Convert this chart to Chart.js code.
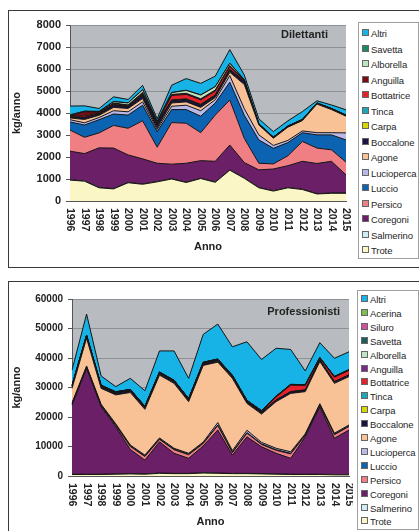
<!DOCTYPE html>
<html>
<head>
<meta charset="utf-8">
<script src="https://cdn.jsdelivr.net/npm/chart.js@4.4.0/dist/chart.umd.min.js"></script>
<style>
  body { margin: 0; background: #fff; width: 419px; height: 531px; overflow: hidden; position: relative;
         font-family: "Liberation Sans", Arial, sans-serif; }
  .frame { position: absolute; border: 1px solid #3a3a3a; }
  canvas { position: absolute; }
  .legend { position: absolute; border: 1px solid #a0a0a0; background: #fff; box-sizing: border-box; }
  .legend div { position: absolute; left: 3px; font-size: 9.5px; line-height: 10px; color: #262626; white-space: nowrap; letter-spacing: -0.1px; }
  .legend span { display: inline-block; width: 5px; height: 5px; border: 1px solid #666; margin-right: 2px; vertical-align: 1px; }
</style>
</head>
<body>
<div class="frame" style="left:8px;top:10px;width:420px;height:256px"></div>
<div class="frame" style="left:8px;top:281px;width:420px;height:260px"></div>
<canvas id="c1" width="344" height="254" style="left:9px;top:11px"></canvas>
<canvas id="c2" width="344" height="249" style="left:9px;top:282px"></canvas>
<div id="lg1" class="legend" style="left:358px;top:22px;width:61px;height:237px"></div>
<div id="lg2" class="legend" style="left:357px;top:290px;width:62px;height:240px"></div>

<script>
// Catture annue (kg/anno), 1996-2015
const years = ['1996','1997','1998','1999','2000','2001','2002','2003','2004','2005',
               '2006','2007','2008','2009','2010','2011','2012','2013','2014','2015'];

// --- Dilettanti (stack order bottom -> top)
const dilNames = ['Trote','Salmerino','Coregoni','Persico','Luccio','Lucioperca','Agone','Boccalone',
                  'Carpa','Tinca','Bottatrice','Anguilla','Alborella','Savetta','Altri'];
const dilTrote      = [950,900,600,550,830,760,870,1000,840,1020,850,1400,1030,600,450,600,520,320,350,350];
const dilSalmerino  = [15,15,15,15,15,15,15,15,15,15,15,15,15,15,15,15,15,15,15,15];
const dilCoregoni   = [1300,1240,1800,1840,1250,1140,830,660,860,800,940,1130,700,800,990,990,1270,1370,1440,820];
const dilPersico    = [960,740,680,1030,1210,1730,730,1890,1820,1270,2100,2045,1100,300,230,450,900,700,520,580];
const dilLuccio     = [370,560,600,520,600,710,710,590,620,750,550,810,1050,1060,710,600,400,600,680,1010];
const dilLucioperca = [100,100,100,150,150,150,100,150,200,250,150,300,300,230,130,100,80,100,100,320];
const dilAgone      = [80,150,100,150,150,150,70,150,150,150,100,150,1100,450,330,600,470,1300,1050,760];
const dilBoccalone  = [40,80,50,100,80,150,180,100,100,100,80,100,120,30,30,30,30,30,30,30];
const dilCarpa      = [10,10,10,10,10,20,10,20,20,20,20,20,10,5,5,5,5,5,5,5];
const dilTinca      = [10,10,10,10,10,10,10,20,20,20,20,20,10,5,5,5,5,5,5,5];
const dilBottatrice = [30,70,30,50,40,50,40,200,200,200,170,120,30,5,5,5,5,5,5,5];
const dilAnguilla   = [20,180,50,30,20,50,20,50,50,50,50,50,20,5,5,5,5,5,5,5];
const dilAlborella  = [20,20,20,60,90,120,20,80,130,170,150,100,20,0,0,0,0,0,0,0];
const dilSavetta    = [10,10,10,10,10,10,10,10,10,10,10,10,10,0,0,0,0,0,0,0];
const dilAltri      = [400,240,130,210,150,190,130,330,530,520,470,610,210,230,250,240,360,100,160,240];
const dilValues = [dilTrote, dilSalmerino, dilCoregoni, dilPersico, dilLuccio, dilLucioperca, dilAgone,
                   dilBoccalone, dilCarpa, dilTinca, dilBottatrice, dilAnguilla, dilAlborella, dilSavetta, dilAltri];
const dilMax = 8000, dilStep = 1000;

// --- Professionisti
const proNames = ['Trote','Salmerino','Coregoni','Persico','Luccio','Lucioperca','Agone','Boccalone',
                  'Carpa','Tinca','Bottatrice','Anguilla','Alborella','Savetta','Siluro','Acerina','Altri'];
const proTrote      = [500,500,500,600,700,600,900,800,800,1000,900,800,800,700,600,500,500,500,400,400];
const proSalmerino  = [100,100,100,100,100,100,100,100,100,100,100,100,100,100,100,100,100,100,100,100];
const proCoregoni   = [23400,35900,22900,16000,8200,4700,10600,6800,5100,9100,14600,6200,12400,9100,7000,5400,12700,22900,12300,15100];
const proPersico    = [300,300,300,500,1000,1200,800,1200,1200,800,1500,800,1200,800,1000,1500,500,500,1200,1200];
const proLuccio     = [200,200,200,200,200,200,200,200,200,200,200,200,200,200,200,200,200,200,200,200];
const proLucioperca = [300,300,300,300,300,300,300,300,300,300,800,500,800,500,500,500,300,300,300,300];
const proAgone      = [4900,9400,5400,9800,17800,15500,21300,22000,17500,26000,20500,24500,9100,9600,15800,19800,14300,14300,16900,16400];
const proBoccalone  = [500,500,500,500,500,500,500,500,500,500,500,500,500,500,500,500,500,500,500,500];
const proCarpa      = [50,50,50,50,50,50,50,50,50,50,50,50,50,50,50,50,50,50,50,50];
const proTinca      = [50,50,50,50,50,50,50,50,50,50,50,50,50,50,50,50,50,50,50,50];
const proBottatrice = [200,200,200,200,200,200,200,200,200,200,200,200,200,300,1000,2200,1500,500,1500,1500];
const proAnguilla   = [100,100,100,100,100,100,100,100,100,100,100,100,100,100,100,100,100,100,100,100];
const proAlborella  = [50,50,50,50,50,50,50,50,50,50,50,50,50,50,50,50,50,50,50,50];
const proSavetta    = [50,50,50,50,50,50,50,50,50,50,50,50,50,50,50,50,50,50,50,50];
const proSiluro     = [50,50,50,50,50,50,50,50,50,50,50,50,50,50,50,50,50,50,50,50];
const proAcerina    = [20,20,20,20,20,20,20,20,20,20,20,20,20,20,20,20,20,20,20,20];
const proAltri      = [5130,7130,3130,1730,3730,5230,7130,9930,6830,9430,11830,9630,19830,17330,16230,11830,4630,5030,6130,6030];
const proValues = [proTrote, proSalmerino, proCoregoni, proPersico, proLuccio, proLucioperca, proAgone,
                   proBoccalone, proCarpa, proTinca, proBottatrice, proAnguilla, proAlborella, proSavetta,
                   proSiluro, proAcerina, proAltri];
const proMax = 60000, proStep = 10000;

const BASE_COLORS = {
  Trote: '#faf6c6', Salmerino: '#cdeef4', Coregoni: '#6b1f66', Persico: '#f07f83', Luccio: '#0b63b2',
  Lucioperca: '#b9b8e6', Agone: '#f9c196', Boccalone: '#1b1442', Carpa: '#d6d600', Tinca: '#1ea7b6',
  Bottatrice: '#e6212b', Anguilla: '#7a0c16', Alborella: '#bfe4c2', Savetta: '#1c8a5c', Altri: '#17b3e6'
};
const PRO_COLORS = Object.assign({}, BASE_COLORS, {
  Anguilla: '#7a2a8c', Savetta: '#1d5c5e', Siluro: '#d24f9f', Acerina: '#7cbf4f'
});

const FONT = '"Liberation Sans", Arial, sans-serif';

const plotBg = {
  id: 'plotBg',
  beforeDraw(c) {
    const a = c.chartArea, ctx = c.ctx;
    ctx.save();
    ctx.fillStyle = '#b8bbbf';
    ctx.fillRect(a.left, a.top, a.right - a.left, a.bottom - a.top);
    ctx.restore();
  }
};

// year labels read top-to-bottom, plus the panel caption
const extras = {
  id: 'extras',
  afterDraw(c, args, o) {
    const ctx = c.ctx, xs = c.scales.x, a = c.chartArea;
    ctx.save();
    ctx.fillStyle = '#222';
    ctx.font = 'bold ' + o.xFont + 'px ' + FONT;
    ctx.textAlign = 'left';
    ctx.textBaseline = 'middle';
    years.forEach((y, i) => {
      ctx.save();
      ctx.translate(xs.getPixelForValue(i), xs.top + 7);
      ctx.rotate(Math.PI / 2);
      ctx.fillText(y, 0, 0);
      ctx.restore();
    });
    ctx.font = 'bold 11px ' + FONT;
    ctx.textAlign = 'right';
    ctx.fillText(o.caption, a.right - o.capRight, a.top + o.capTop);
    ctx.restore();
  }
};

function makeChart(id, names, values, colors, cfg) {
  const datasets = names.map((n, i) => ({
    label: n,
    data: values[i],
    backgroundColor: colors[n],
    borderColor: '#151515',
    borderWidth: 1,
    fill: i === 0 ? 'origin' : '-1',
    pointRadius: 0,
    tension: 0,
  }));
  return new Chart(document.getElementById(id), {
    type: 'line',
    data: { labels: years, datasets },
    plugins: [plotBg, extras],
    options: {
      animation: false,
      responsive: false,
      layout: { padding: { top: cfg.padTop, right: cfg.padRight, left: 0, bottom: 0 } },
      plugins: {
        legend: { display: false },
        tooltip: { enabled: false },
        extras: { caption: cfg.caption, capRight: cfg.capRight, capTop: cfg.capTop, xFont: cfg.xFont },
      },
      scales: {
        x: {
          ticks: { display: false },
          grid: { display: false },
          border: { color: '#555' },
          title: { display: true, text: 'Anno', color: '#222', font: { family: FONT, size: 11, weight: 'bold' },
                   padding: { top: 0, bottom: cfg.annoPad } },
          afterFit(s) { s.height = cfg.xHeight; },
        },
        y: {
          stacked: true,
          min: 0, max: cfg.max,
          ticks: { stepSize: cfg.step, color: '#222', padding: 5, callback: (v) => String(v),
                   font: { family: FONT, size: cfg.yFont, weight: 'bold' } },
          grid: { color: '#8e9195', tickLength: 4, tickColor: '#555' },
          border: { color: '#555' },
          title: { display: true, text: 'kg/anno', color: '#222', font: { family: FONT, size: 11, weight: 'bold' },
                   padding: { top: 1, bottom: 0 } },
          afterFit(s) { s.width = cfg.yWidth; },
        },
      },
    },
  });
}

function makeLegend(id, names, colors, first, gap) {
  const el = document.getElementById(id);
  names.slice().reverse().forEach((n, i) => {
    const d = document.createElement('div');
    d.style.top = (first - 5 + i * gap) + 'px';
    d.innerHTML = '<span style="background:' + colors[n] + '"></span>' + n;
    el.appendChild(d);
  });
}

makeChart('c1', dilNames, dilValues, BASE_COLORS, {
  max: dilMax, step: dilStep, padTop: 14, padRight: 7, xHeight: 64, yWidth: 61, annoPad: 11,
  caption: 'Dilettanti', capRight: 18, capTop: 10, yFont: 11, xFont: 10.5,
});
makeChart('c2', proNames, proValues, PRO_COLORS, {
  max: proMax, step: proStep, padTop: 17, padRight: 4, xHeight: 55, yWidth: 63, annoPad: 2,
  caption: 'Professionisti', capRight: 9, capTop: 13, yFont: 10, xFont: 10.5,
});
makeLegend('lg1', dilNames, BASE_COLORS, 11, 15.5);
makeLegend('lg2', proNames, PRO_COLORS, 9, 13.9);
</script>
</body>
</html>
